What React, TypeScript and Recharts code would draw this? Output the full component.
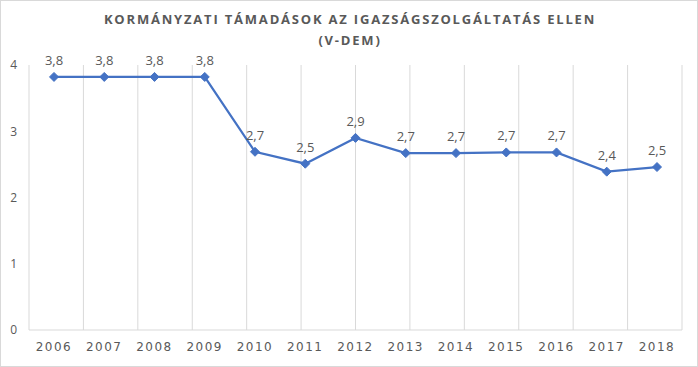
import { LineChart, Line, XAxis, YAxis, ReferenceLine, LabelList } from "recharts";

const YEARS = ["2006", "2007", "2008", "2009", "2010", "2011", "2012", "2013", "2014", "2015", "2016", "2017", "2018"];
const ATTACKS = [3.82, 3.82, 3.82, 3.82, 2.69, 2.51, 2.9, 2.67, 2.67, 2.68, 2.68, 2.39, 2.46];
const Y_TICKS = [0, 1, 2, 3, 4];
const GRID_TICKS = [0, 1, 2, 3, 4, 5, 6, 7, 8, 9, 10, 11, 12, 13];

const data = YEARS.map((year, i) => ({ year, value: ATTACKS[i] }));

const TEXT = "#595959";
const BLUE = "#4472c4";
const GRID = "#d9d9d9";

function Diamond(props: any) {
  const { cx, cy, index } = props;
  if (cx == null || cy == null) return null;
  const r = 4.5;
  return (
    <polygon
      key={index}
      points={`${cx},${cy - r} ${cx + r},${cy} ${cx},${cy + r} ${cx - r},${cy}`}
      fill={BLUE}
      stroke={BLUE}
    />
  );
}

export default function App() {
  return (
    <div
      style={{
        position: "absolute",
        left: 0,
        top: 0,
        width: 698,
        height: 367,
        background: "#fff",
        boxSizing: "border-box",
        border: `1px solid ${GRID}`,
        fontFamily: "'Open Sans', sans-serif",
      }}
    >
      <div
        style={{
          position: "absolute",
          left: 0,
          top: 8,
          width: 698,
          textAlign: "center",
          color: TEXT,
          fontWeight: 700,
          fontSize: 13,
          letterSpacing: 1.8,
          lineHeight: "21px",
        }}
      >
        KORMÁNYZATI TÁMADÁSOK AZ IGAZSÁGSZOLGÁLTATÁS ELLEN
        <br />
        (V-DEM)
      </div>
      <div style={{ position: "absolute", left: -1, top: -1 }}>
        <LineChart width={698} height={367} data={data} margin={{ top: 65, right: 16, bottom: 0, left: 0 }}>
          <XAxis xAxisId="grid" type="number" domain={[0, 13]} ticks={GRID_TICKS} hide />
          {GRID_TICKS.map((t) => (
            <ReferenceLine key={t} xAxisId="grid" x={t} stroke={GRID} strokeWidth={1} />
          ))}
          <XAxis
            dataKey="year"
            padding={{ left: 25, right: 25 }}
            stroke={GRID}
            tickLine={false}
            tickSize={0}
            tickMargin={12}
            height={37}
            tick={{ fill: TEXT, fontSize: 12, letterSpacing: 1.5, fontFamily: "'DejaVu Sans', sans-serif" }}
          />
          <YAxis
            domain={[0, 4]}
            ticks={Y_TICKS}
            width={29}
            axisLine={false}
            tickLine={false}
            tickSize={0}
            tickMargin={12}
            tick={{ fill: TEXT, fontSize: 12, fontFamily: "'Open Sans', sans-serif" }}
          />
          <Line
            dataKey="value"
            stroke={BLUE}
            strokeWidth={2.25}
            dot={Diamond}
            activeDot={false}
            isAnimationActive={false}
          >
            <LabelList
              dataKey="value"
              position="top"
              offset={12}
              fill={TEXT}
              fontSize={13}
              fontFamily="'Open Sans', sans-serif"
              formatter={(v: any) => Number(v).toFixed(1).replace(".", ",")}
            />
          </Line>
        </LineChart>
      </div>
    </div>
  );
}
